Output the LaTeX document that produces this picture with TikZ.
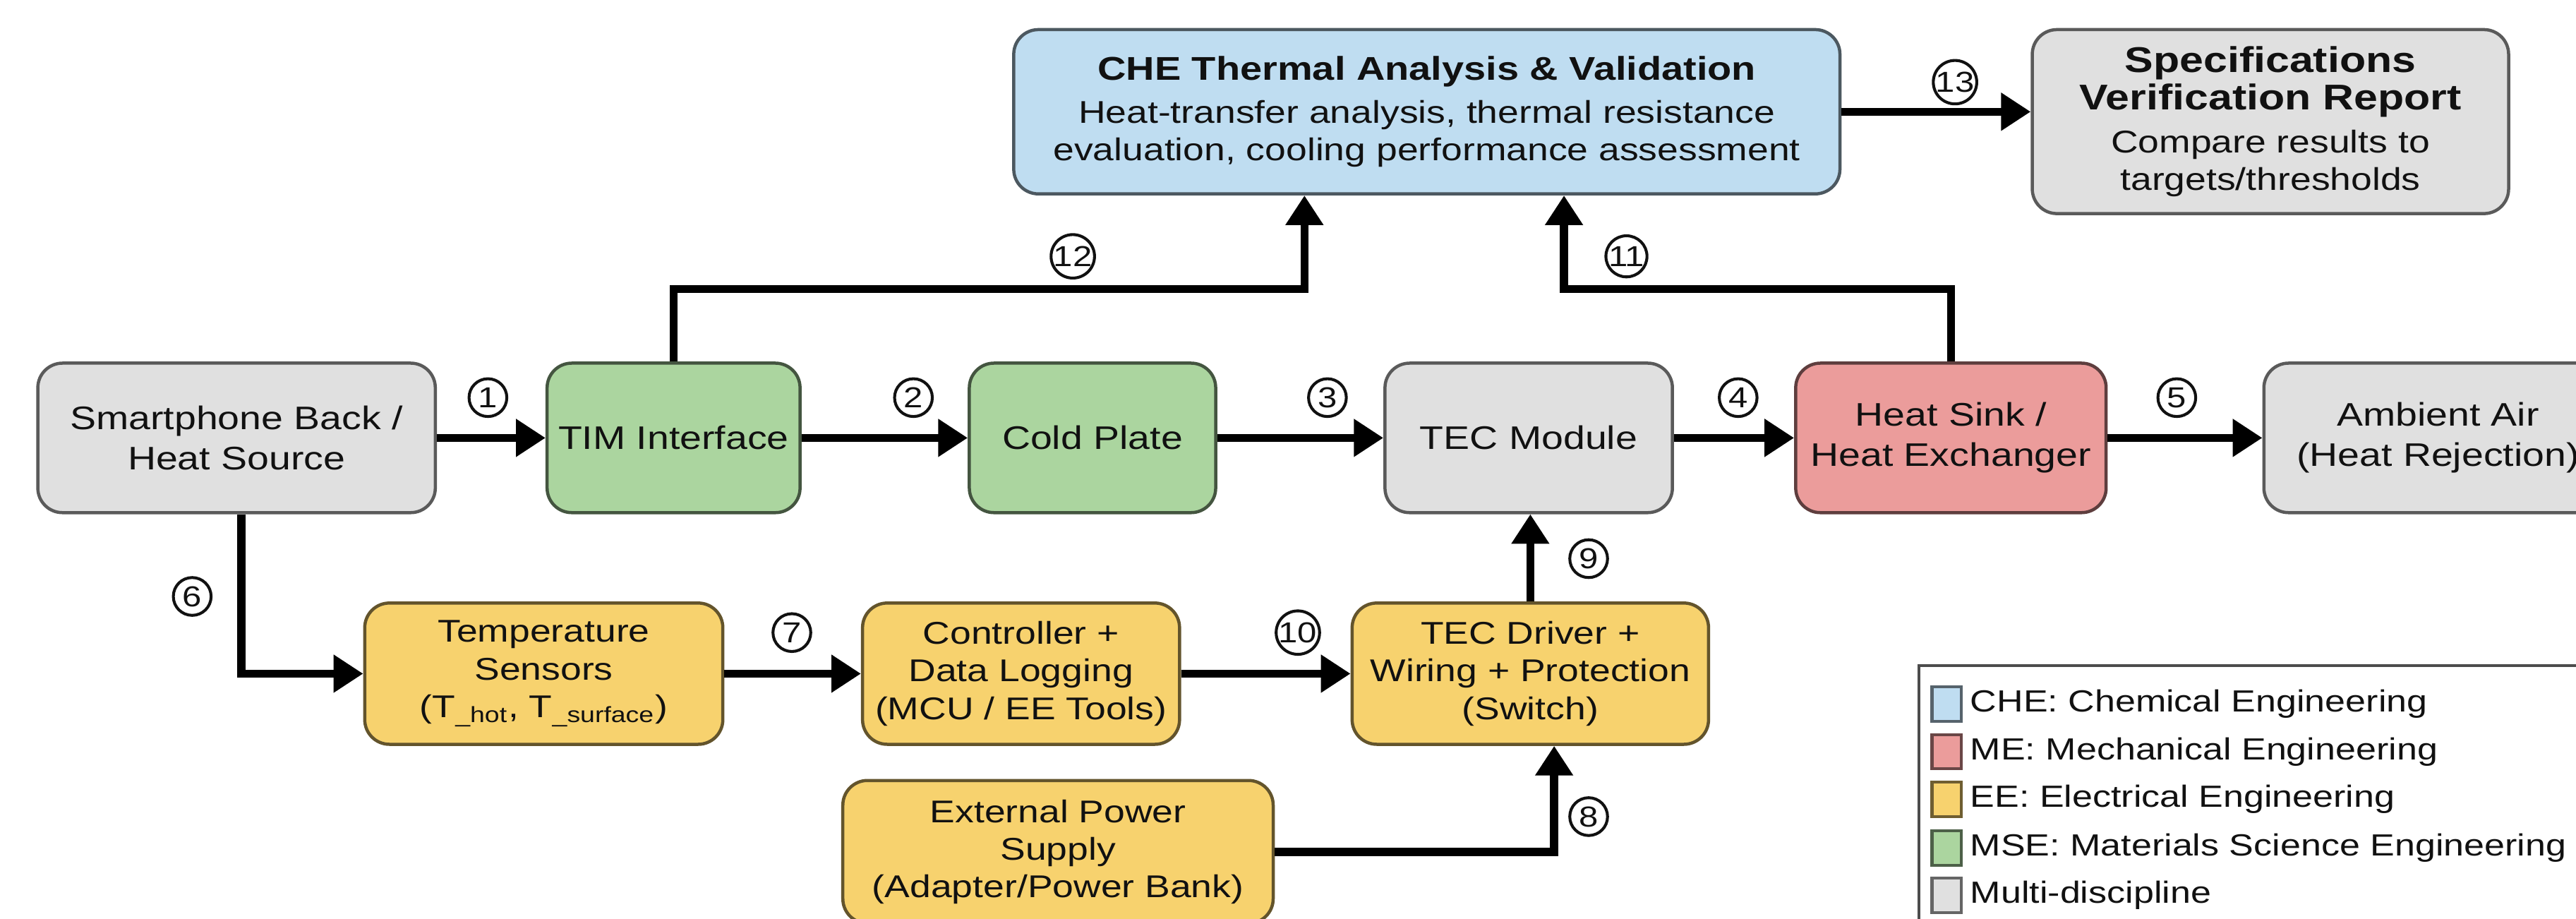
\documentclass[tikz,border=0pt]{standalone}
\usepackage{fontspec}
\setmainfont{Liberation Sans}[FakeStretch=1.2]
\usetikzlibrary{arrows.meta,calc}
\definecolor{cgray}{HTML}{E0E0E0}
\definecolor{cgreen}{HTML}{ABD59F}
\definecolor{cblue}{HTML}{BFDDF1}
\definecolor{cred}{HTML}{EB9C9B}
\definecolor{cyel}{HTML}{F7D26E}
\definecolor{txt}{HTML}{111111}
\newcommand{\boxfont}{\fontsize{10.9}{13}\selectfont}
\newcommand{\rowfont}{\fontsize{11.3}{14}\selectfont}
\newcommand{\bigbold}{\fontsize{12.4}{14.6}\selectfont\bfseries}
\newcommand{\numfont}{\fontsize{10}{10}\selectfont}
\newcommand{\legfont}{\fontsize{10.6}{12}\selectfont}
\begin{document}
\begin{tikzpicture}[x=0.02cm,y=-0.02cm,
 box/.style={draw=#1!40!black, fill=#1, line width=1.1pt, rounded corners=0.3cm, align=center, inner sep=1pt, font=\boxfont, text=txt},
 rowbox/.style={box=#1, font=\rowfont, minimum height=1.82cm},
 num/.style={draw=txt, circle, line width=1pt, minimum size=0.46cm, inner sep=0pt, font=\numfont, text=txt},
 arr/.style={line width=2.8pt, -{Triangle[length=0.36cm,width=0.44cm]}, draw=black},
 legsq/.style={draw=#1!45!black, fill=#1, line width=1pt, minimum width=0.36cm, minimum height=0.42cm, inner sep=0pt},
 legtx/.style={anchor=west, font=\legfont, text=txt, inner sep=0pt},
]
\useasboundingbox (0,0) rectangle (1568,559);
\fill[white] (0,0) rectangle (1568,559);
\clip (0,0) rectangle (1568,559);

% main row
\node[rowbox=cgray, minimum width=4.84cm] (src) at (144,266.5) {Smartphone Back /\\Heat Source};
\node[rowbox=cgreen, minimum width=3.08cm] (tim) at (410,266.5) {TIM Interface};
\node[rowbox=cgreen, minimum width=3.0cm] (cold) at (665,266.5) {Cold Plate};
\node[rowbox=cgray, minimum width=3.5cm] (tec) at (930.5,266.5) {TEC Module};
\node[rowbox=cred, minimum width=3.78cm] (sink) at (1187.5,266.5) {Heat Sink /\\Heat Exchanger};
\node[rowbox=cgray, minimum width=4.24cm] (amb) at (1484,266.5) {Ambient Air\\(Heat Rejection)};

% top row
\node[box=cblue, minimum width=10.06cm, minimum height=2.0cm] (che) at (868.5,68) {{\fontsize{11.4}{13}\selectfont\bfseries CHE Thermal Analysis \& Validation}\\[2pt]Heat-transfer analysis, thermal resistance\\evaluation, cooling performance assessment};
\node[box=cgray, minimum width=5.8cm, minimum height=2.24cm] (spec) at (1382,74) {{\bigbold Specifications}\\{\bigbold Verification Report}\\[2pt]Compare results to\\targets/thresholds};

% lower rows
\node[box=cyel, minimum width=4.36cm, minimum height=1.72cm] (temp) at (331,410) {Temperature\\Sensors\\(T\textsubscript{\_hot}, T\textsubscript{\_surface})};
\node[box=cyel, minimum width=3.86cm, minimum height=1.72cm] (ctrl) at (621.5,410) {Controller +\\Data Logging\\(MCU / EE Tools)};
\node[box=cyel, minimum width=4.34cm, minimum height=1.72cm] (drv) at (931.5,410) {TEC Driver +\\Wiring + Protection\\(Switch)};
\node[box=cyel, minimum width=5.24cm, minimum height=1.74cm] (pwr) at (644,518.5) {External Power\\Supply\\(Adapter/Power Bank)};

% connectors
\coordinate (k6) at (147,410);
\coordinate (k8) at (946,500);
\coordinate (k12) at (794,176);
\coordinate (k11) at (952,176);
\draw[arr] (src) -- (tim);
\draw[arr] (tim) -- (cold);
\draw[arr] (cold) -- (tec);
\draw[arr] (tec) -- (sink);
\draw[arr] (sink) -- (amb);
\draw[arr] (src.south -| k6) |- (temp.west);
\draw[arr] (temp) -- (ctrl);
\draw[arr] (ctrl) -- (drv);
\draw[arr] (drv.north) -- (drv.north |- tec.south);
\draw[arr] (pwr.east) -| (drv.south -| k8);
\draw[arr] (tim.north) |- (k12) -- (che.south -| k12);
\draw[arr] (sink.north) |- (k11) -- (che.south -| k11);
\draw[arr] (che.east) -- (che.east -| spec.west);

% step numbers
\node[num] (n1) at (297,242) {1};
\node[num] (n2) at (556,242) {2};
\node[num] (n3) at (808,242) {3};
\node[num] (n4) at (1058,242) {4};
\node[num] (n5) at (1325,242) {5};
\node[num] (n6) at (117,363) {6};
\node[num] (n7) at (482,385) {7};
\node[num] (n10) at (790,385) {10};
\node[num] (n9) at (967,340) {9};
\node[num] (n8) at (967,497) {8};
\node[num] (n12) at (653,156) {12};
\node[num] (n11) at (990,156) {11};
\node[num] (n13) at (1190,50) {13};

% legend
\draw[line width=1pt, draw=black!70] (1168,405) rectangle (1640,640);
\node[legsq=cblue] (l1) at (1185,428.5) {};
\node[legtx] (lt1) at (1199,428.5) {CHE: Chemical Engineering};
\node[legsq=cred] (l2) at (1185,457.5) {};
\node[legtx] (lt2) at (1199,457.5) {ME: Mechanical Engineering};
\node[legsq=cyel] (l3) at (1185,486.5) {};
\node[legtx] (lt3) at (1199,486.5) {EE: Electrical Engineering};
\node[legsq=cgreen] (l4) at (1185,516) {};
\node[legtx] (lt4) at (1199,516) {MSE: Materials Science Engineering};
\node[legsq=cgray] (l5) at (1185,545) {};
\node[legtx] (lt5) at (1199,545) {Multi-discipline};
\end{tikzpicture}
\end{document}
